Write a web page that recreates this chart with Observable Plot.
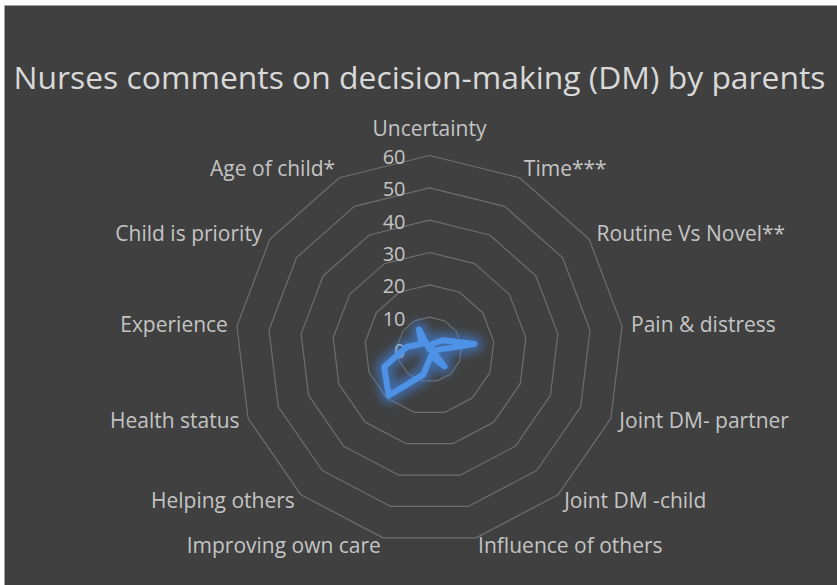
<!DOCTYPE html>
<html><head><meta charset="utf-8">
<script src="https://cdn.jsdelivr.net/npm/d3@7"></script>
<script src="https://cdn.jsdelivr.net/npm/@observablehq/plot@0.6"></script>
<style>
body{margin:0;background:#ffffff;}
#chart{position:relative;width:837px;height:585px;}
svg{display:block;}
</style></head><body><div id="chart"></div>
<script>
const title = "Nurses comments on decision-making (DM) by parents";
const categories = ["Uncertainty","Time***","Routine Vs Novel**","Pain & distress","Joint DM- partner","Joint DM -child","Influence of others","Improving own care","Helping others","Health status","Experience","Child is priority","Age of child*"];
const values = [0, 2, 5, 14, 1, 7, 2, 8, 19, 15, 7, 3, 7];
const ringTicks = [0, 10, 20, 30, 40, 50, 60];

const n = categories.length;
const angle = i => 2 * Math.PI * i / n;
const labelR = 62.8;
const cx = 429, cy = 349, k = 194 / 60, W = 837, H = 585, mL = 4, mT = 5;

const series = values.map((v, i) => ({c: categories[i], x: v * Math.sin(angle(i)), y: v * Math.cos(angle(i))}));
const closed = [...series, series[0]];
const rings = ringTicks.filter(t => t > 0).flatMap(t => d3.range(n + 1).map(j => ({t, x: t * Math.sin(angle(j % n)), y: t * Math.cos(angle(j % n))})));
const labels = categories.map((c, i) => {
  const s = Math.sin(angle(i));
  return {c, x: labelR * s, y: labelR * Math.cos(angle(i)), side: Math.abs(s) < 1e-6 ? "top" : (s > 0 ? "start" : "end")};
});
const ticks = ringTicks.map(t => ({t, label: String(t)}));

const labelFill = "#c4c4c4";
const font = "'Open Sans', sans-serif";
const labelSize = 21;

const plot = Plot.plot({
  width: W, height: H,
  marginLeft: mL, marginTop: mT, marginRight: 0, marginBottom: 0,
  style: {background: "transparent", fontFamily: font},
  x: {domain: [(mL - cx) / k, (W - cx) / k], axis: null},
  y: {domain: [(cy - H) / k, (cy - mT) / k], axis: null},
  marks: [
    Plot.frame({fill: "#404040", stroke: null}),
    Plot.text([title], {frameAnchor: "top-left", dx: 9, dy: 61, text: d => d, textAnchor: "start", fill: "#d9d9d9", fontSize: 31}),
    Plot.line(rings, {x: "x", y: "y", z: "t", stroke: "#6e6e6e", strokeWidth: 1.2}),
    Plot.text(ticks, {x: () => 0, y: "t", text: "label", textAnchor: "end", dx: -24, dy: 2, fill: labelFill, fontSize: 20}),
    Plot.text(labels.filter(d => d.side === "top"), {x: "x", y: "y", text: "c", textAnchor: "middle", dy: -17, fill: labelFill, fontSize: labelSize}),
    Plot.text(labels.filter(d => d.side === "start"), {x: "x", y: "y", text: "c", textAnchor: "start", fill: labelFill, fontSize: labelSize}),
    Plot.text(labels.filter(d => d.side === "end"), {x: "x", y: "y", text: "c", textAnchor: "end", fill: labelFill, fontSize: labelSize}),
    Plot.line(closed, {x: "x", y: "y", stroke: "#3f86e6", strokeWidth: 16, strokeOpacity: 0.6, strokeLinejoin: "round", ariaDescription: "glow"}),
    Plot.line(closed, {x: "x", y: "y", stroke: "#4d92e4", strokeWidth: 6, strokeLinejoin: "round", strokeLinecap: "round"})
  ]
});
const svg = d3.select(plot);
const defs = svg.insert("defs", ":first-child");
const f = defs.append("filter").attr("id", "glow").attr("x", "-50%").attr("y", "-50%").attr("width", "200%").attr("height", "200%");
f.append("feGaussianBlur").attr("stdDeviation", 5);
svg.selectAll("g[aria-description=glow]").attr("filter", "url(#glow)");
// fit title to the reference width
svg.selectAll("text").filter(function(){ return this.textContent === title; }).attr("textLength", 812).attr("lengthAdjust", "spacingAndGlyphs");
document.getElementById("chart").appendChild(plot);
</script></body></html>
